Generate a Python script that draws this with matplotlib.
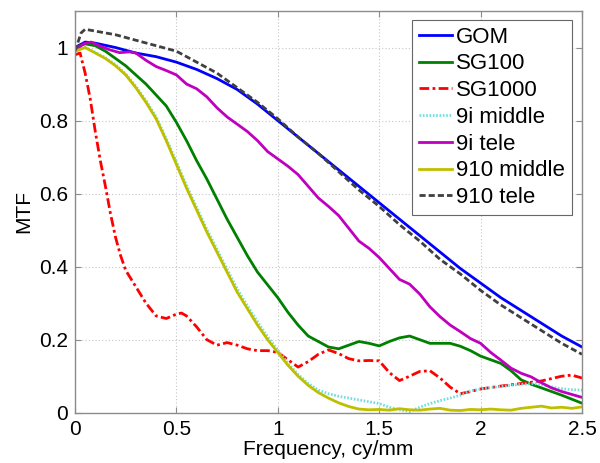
import matplotlib
matplotlib.use("Agg")
import matplotlib.pyplot as plt

plt.rcParams['font.family'] = ['Liberation Sans', 'DejaVu Sans']

# ---- data ----
gom_x = [0, 0.05, 0.1, 0.2, 0.3, 0.4, 0.5, 0.6, 0.7, 0.8, 0.9, 1.0, 1.1, 1.2, 1.3,
         1.4, 1.5, 1.6, 1.7, 1.8, 1.9, 2.0, 2.1, 2.2, 2.3, 2.4, 2.5]
gom_y = [1.0, 1.015, 1.012, 1.0, 0.985, 0.975, 0.96, 0.94, 0.915, 0.885, 0.845, 0.80,
         0.755, 0.71, 0.665, 0.62, 0.575, 0.53, 0.485, 0.44, 0.395, 0.355, 0.315, 0.28,
         0.245, 0.21, 0.18]

sg100_x = [0, 0.05, 0.1, 0.15, 0.2, 0.25, 0.3, 0.35, 0.4, 0.45, 0.5, 0.55, 0.6, 0.65,
           0.7, 0.75, 0.8, 0.85, 0.9, 0.95, 1.0, 1.05, 1.1, 1.15, 1.2, 1.25, 1.3, 1.35,
           1.4, 1.45, 1.5, 1.55, 1.6, 1.65, 1.7, 1.75, 1.8, 1.85, 1.9, 1.95, 2.0, 2.05,
           2.1, 2.15, 2.2, 2.25, 2.3, 2.4, 2.5]
sg100_y = [1.0, 1.01, 1.005, 0.99, 0.97, 0.95, 0.925, 0.9, 0.87, 0.84, 0.795, 0.745,
           0.69, 0.64, 0.585, 0.53, 0.48, 0.43, 0.385, 0.35, 0.315, 0.275, 0.24, 0.21,
           0.195, 0.18, 0.175, 0.185, 0.195, 0.19, 0.183, 0.195, 0.205, 0.21, 0.2, 0.19,
           0.19, 0.19, 0.182, 0.17, 0.155, 0.145, 0.135, 0.115, 0.09, 0.078, 0.068,
           0.048, 0.026]

sg1000_x = [0, 0.025, 0.05, 0.075, 0.1, 0.125, 0.15, 0.175, 0.2, 0.225, 0.25, 0.3,
            0.35, 0.4, 0.45, 0.5, 0.525, 0.55, 0.6, 0.65, 0.7, 0.75, 0.8, 0.85, 0.9,
            0.95, 1.0, 1.05, 1.1, 1.15, 1.2, 1.25, 1.3, 1.35, 1.4, 1.45, 1.5, 1.55,
            1.6, 1.65, 1.7, 1.75, 1.8, 1.85, 1.9, 1.95, 2.0, 2.1, 2.2, 2.3, 2.4, 2.45,
            2.5]
sg1000_y = [0.98, 0.985, 0.93, 0.86, 0.77, 0.69, 0.62, 0.545, 0.48, 0.43, 0.39, 0.345,
            0.30, 0.265, 0.258, 0.27, 0.273, 0.265, 0.235, 0.20, 0.185, 0.192, 0.185,
            0.175, 0.17, 0.17, 0.165, 0.145, 0.125, 0.14, 0.16, 0.172, 0.162, 0.148,
            0.142, 0.143, 0.142, 0.11, 0.088, 0.10, 0.113, 0.115, 0.095, 0.07, 0.052,
            0.058, 0.065, 0.073, 0.08, 0.087, 0.10, 0.103, 0.095]

mid9i_x = [0, 0.05, 0.1, 0.15, 0.2, 0.25, 0.3, 0.35, 0.4, 0.45, 0.5, 0.55, 0.6, 0.65,
           0.7, 0.75, 0.8, 0.85, 0.9, 0.95, 1.0, 1.05, 1.1, 1.15, 1.2, 1.25, 1.3, 1.35,
           1.4, 1.45, 1.5, 1.55, 1.6, 1.65, 1.7, 1.75, 1.8, 1.85, 1.9, 1.95, 2.0, 2.1,
           2.2, 2.26, 2.3, 2.38, 2.45, 2.5]
mid9i_y = [0.99, 1.0, 0.987, 0.972, 0.953, 0.928, 0.894, 0.855, 0.81, 0.751, 0.687,
           0.622, 0.562, 0.503, 0.448, 0.393, 0.339, 0.293, 0.249, 0.208, 0.172, 0.135,
           0.105, 0.08, 0.062, 0.052, 0.045, 0.04, 0.035, 0.03, 0.025, 0.015, 0.008,
           0.003, 0.015, 0.025, 0.033, 0.04, 0.048, 0.06, 0.065, 0.072, 0.078, 0.08,
           0.077, 0.067, 0.063, 0.062]

tele9i_x = [0, 0.04, 0.08, 0.12, 0.17, 0.22, 0.27, 0.3, 0.35, 0.4, 0.45, 0.5, 0.55,
            0.6, 0.65, 0.7, 0.75, 0.8, 0.85, 0.9, 0.95, 1.0, 1.05, 1.1, 1.15, 1.2, 1.25,
            1.3, 1.35, 1.4, 1.45, 1.5, 1.55, 1.6, 1.65, 1.7, 1.75, 1.8, 1.85, 1.9, 1.95,
            2.0, 2.05, 2.1, 2.15, 2.2, 2.25, 2.3, 2.35, 2.4, 2.45, 2.5]
tele9i_y = [0.99, 1.01, 1.015, 1.005, 0.994, 0.986, 0.988, 0.985, 0.965, 0.948, 0.937,
            0.925, 0.90, 0.887, 0.865, 0.835, 0.81, 0.79, 0.77, 0.745, 0.715, 0.695,
            0.675, 0.652, 0.62, 0.588, 0.565, 0.54, 0.505, 0.47, 0.45, 0.425, 0.395,
            0.365, 0.352, 0.325, 0.29, 0.263, 0.24, 0.222, 0.203, 0.19, 0.165, 0.144,
            0.122, 0.108, 0.098, 0.082, 0.068, 0.058, 0.05, 0.042]

mid910_x = [0, 0.05, 0.1, 0.15, 0.2, 0.25, 0.3, 0.35, 0.4, 0.45, 0.5, 0.55, 0.6, 0.65,
            0.7, 0.75, 0.8, 0.85, 0.9, 0.95, 1.0, 1.05, 1.1, 1.15, 1.2, 1.25, 1.3, 1.35,
            1.4, 1.45, 1.5, 1.55, 1.6, 1.65, 1.7, 1.75, 1.8, 1.85, 1.9, 1.95, 2.0, 2.05,
            2.1, 2.15, 2.2, 2.25, 2.3, 2.35, 2.4, 2.45, 2.5]
mid910_y = [0.99, 1.0, 0.985, 0.97, 0.95, 0.925, 0.89, 0.85, 0.805, 0.745, 0.68, 0.615,
            0.555, 0.495, 0.44, 0.385, 0.33, 0.285, 0.24, 0.20, 0.165, 0.13, 0.10, 0.075,
            0.055, 0.04, 0.027, 0.017, 0.01, 0.008, 0.009, 0.007, 0.011, 0.008, 0.007,
            0.01, 0.012, 0.007, 0.006, 0.009, 0.008, 0.01, 0.008, 0.007, 0.012, 0.015,
            0.018, 0.013, 0.015, 0.012, 0.016]

tele910_x = [0, 0.03, 0.05, 0.1, 0.2, 0.3, 0.4, 0.5, 0.6, 0.7, 0.8, 0.9, 1.0, 1.1, 1.2,
             1.3, 1.4, 1.5, 1.6, 1.7, 1.8, 1.9, 2.0, 2.1, 2.2, 2.3, 2.4, 2.5]
tele910_y = [0.99, 1.04, 1.05, 1.045, 1.035, 1.02, 1.005, 0.99, 0.96, 0.93, 0.89, 0.85,
             0.805, 0.755, 0.71, 0.66, 0.61, 0.565, 0.515, 0.47, 0.42, 0.38, 0.335,
             0.295, 0.26, 0.225, 0.19, 0.16]

labels = ["GOM", "SG100", "SG1000", "9i middle", "9i tele", "910 middle", "910 tele"]
x_ticks = [0, 0.5, 1, 1.5, 2, 2.5]
x_tick_labels = ["0", "0.5", "1", "1.5", "2", "2.5"]
y_ticks = [0, 0.2, 0.4, 0.6, 0.8, 1.0]
y_tick_labels = ["0", "0.2", "0.4", "0.6", "0.8", "1"]

# ---- figure ----
fig = plt.figure(figsize=(6.0, 4.63), dpi=100)
ax = fig.add_axes([0.125, 0.1086, 0.845, 0.8676])

lw = 2.0
ax.plot(gom_x, gom_y, color=(0, 0, 1), lw=lw, label=labels[0])
ax.plot(sg100_x, sg100_y, color=(0, 0.5, 0), lw=lw, label=labels[1])
ax.plot(sg1000_x, sg1000_y, color=(1, 0, 0), lw=lw, linestyle=(0, (3.5, 1.2, 1.0, 1.2)),
        label=labels[2])
ax.plot(mid9i_x, mid9i_y, color=(0.45, 0.87, 0.87), lw=lw, linestyle=(0, (0.6, 0.6)),
        label=labels[3])
ax.plot(tele9i_x, tele9i_y, color=(0.75, 0, 0.75), lw=lw, label=labels[4])
ax.plot(mid910_x, mid910_y, color=(0.75, 0.75, 0), lw=lw, label=labels[5])
ax.plot(tele910_x, tele910_y, color=(0.25, 0.25, 0.25), lw=lw, linestyle=(0, (2.2, 1.1)),
        label=labels[6])

ax.set_xlim(0, 2.5)
ax.set_ylim(0, 1.1)
ax.set_xticks(x_ticks)
ax.set_xticklabels(x_tick_labels)
ax.set_yticks(y_ticks)
ax.set_yticklabels(y_tick_labels)

ax.grid(True, linestyle=(0, (1, 2)), color=(0.78, 0.78, 0.78), linewidth=0.8)
for s in ax.spines.values():
    s.set_color((0.55, 0.55, 0.55))
    s.set_linewidth(1.0)
ax.tick_params(direction='in', length=4, width=0.8, color=(0.55, 0.55, 0.55),
               labelsize=15, top=True, right=True, pad=5)

ax.set_xlabel("Frequency, cy/mm", fontsize=15, labelpad=1)
ax.set_ylabel("MTF", fontsize=15, labelpad=4)

leg = ax.legend(loc='upper right', bbox_to_anchor=(0.98, 0.978), fontsize=16,
                frameon=True, fancybox=False, handlelength=1.5, handletextpad=0.2,
                labelspacing=0.26, borderpad=0.3, borderaxespad=0)
leg.get_frame().set_edgecolor((0.4, 0.4, 0.4))
leg.get_frame().set_linewidth(0.8)
leg.get_frame().set_alpha(1)

fig.savefig("out.png", dpi=100)
